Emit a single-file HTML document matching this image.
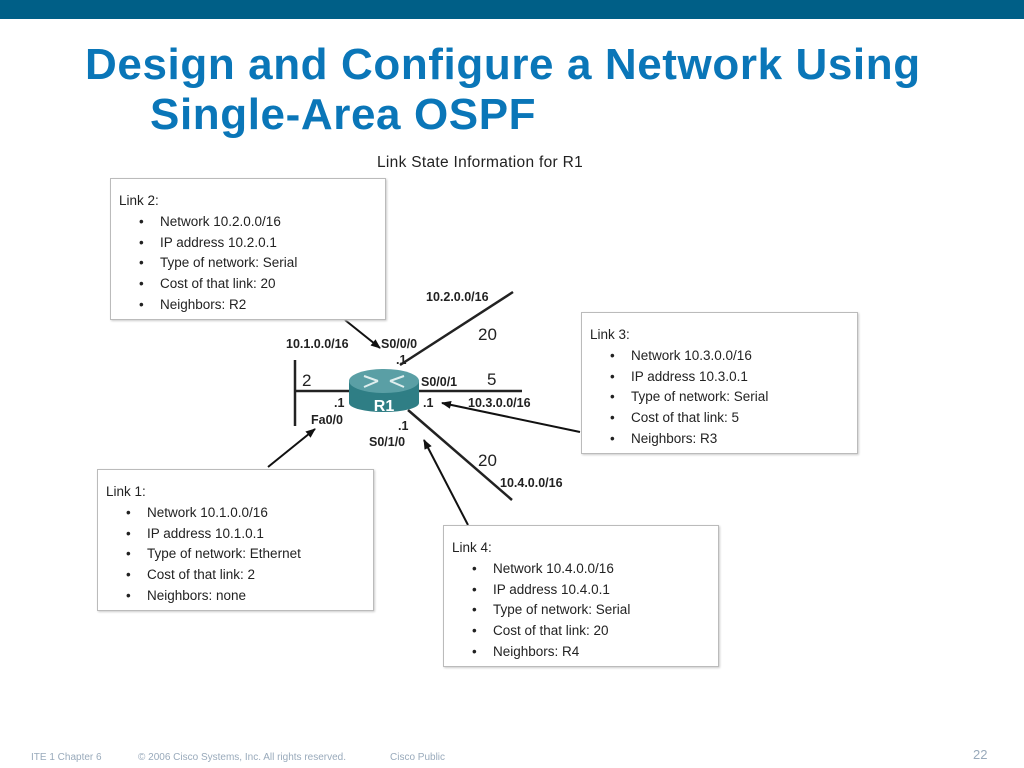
<!DOCTYPE html>
<html><head><style>
body{margin:0;width:1024px;height:768px;background:#fff;position:relative;overflow:hidden;font-family:"Liberation Sans",sans-serif}
.bar{position:absolute;left:0;top:0;width:1024px;height:19px;background:#005f87}
h1{position:absolute;left:85px;top:40px;margin:0;font-size:44px;line-height:50px;color:#0a76b8;font-weight:bold;letter-spacing:0.6px}
.box{position:absolute;border:1px solid #bbb;box-shadow:1px 1px 2px #ccc;background:#fff;font-size:13.5px;color:#222}
.box .t{position:absolute;left:8px;top:14px}
.box ul{position:absolute;left:28px;top:33px;margin:0;padding:0;list-style:none}
.box li{line-height:20.7px}
.box li:before{content:"•";display:inline-block;width:21px}
.ft{position:absolute;top:752px;font-size:10px;color:#9ab}
</style></head><body>
<div class="bar"></div>
<h1>Design and Configure a Network Using<br><span style="margin-left:65px">Single-Area OSPF</span></h1>
<div style="position:absolute;left:377px;top:154px;font-size:15.5px;color:#222;letter-spacing:0.3px">Link State Information for R1</div>
<svg width="1024" height="768" style="position:absolute;left:0;top:0">
<defs><marker id="a" markerWidth="10" markerHeight="8" refX="9" refY="4" orient="auto" markerUnits="userSpaceOnUse"><path d="M0,0L10,4L0,8z" fill="#111"/></marker></defs>
<g stroke="#222" stroke-width="2.5" fill="none">
<line x1="295" y1="360" x2="295" y2="426"/>
<line x1="295" y1="391" x2="355" y2="391"/>
<line x1="400" y1="365" x2="513" y2="292"/>
<line x1="410" y1="391" x2="522" y2="391"/>
<line x1="408" y1="410" x2="512" y2="500"/>
</g>
<g stroke="#111" stroke-width="2" marker-end="url(#a)">
<line x1="345" y1="320" x2="380" y2="348"/>
<line x1="268" y1="467" x2="315" y2="429"/>
<line x1="580" y1="432" x2="442" y2="403"/>
<line x1="468" y1="525" x2="424" y2="440"/>
</g>
<rect x="349" y="381" width="70" height="22" fill="#2f7e85"/>
<ellipse cx="384" cy="403" rx="35" ry="9" fill="#2f7e85"/>
<ellipse cx="384" cy="381" rx="35" ry="12" fill="#5a9fa5"/>
<g stroke="#dfeeee" stroke-width="2"><line x1="364" y1="376" x2="378" y2="381"/><line x1="364" y1="387" x2="378" y2="381"/><line x1="404" y1="376" x2="390" y2="381"/><line x1="404" y1="387" x2="390" y2="381"/></g>
<text x="384" y="411" fill="#fff" font-size="16" font-weight="bold" text-anchor="middle" font-family="Liberation Sans">R1</text>
<g font-family="Liberation Sans" font-size="12.5" font-weight="bold" fill="#222">
<text x="426" y="301">10.2.0.0/16</text>
<text x="286" y="348">10.1.0.0/16</text>
<text x="381" y="348">S0/0/0</text>
<text x="396" y="364">.1</text>
<text x="421" y="386">S0/0/1</text>
<text x="423" y="407">.1</text>
<text x="468" y="407">10.3.0.0/16</text>
<text x="334" y="407">.1</text>
<text x="311" y="424">Fa0/0</text>
<text x="398" y="430">.1</text>
<text x="369" y="446">S0/1/0</text>
<text x="500" y="487">10.4.0.0/16</text>
</g>
<g font-family="Liberation Sans" font-size="17" fill="#222">
<text x="478" y="340">20</text><text x="302" y="386">2</text><text x="487" y="385">5</text><text x="478" y="466">20</text>
</g>
</svg>
<div class="box" style="left:110px;top:178px;width:274px;height:140px"><div class="t">Link 2:</div><ul><li>Network 10.2.0.0/16</li><li>IP address 10.2.0.1</li><li>Type of network: Serial</li><li>Cost of that link: 20</li><li>Neighbors: R2</li></ul></div>
<div class="box" style="left:581px;top:312px;width:275px;height:140px"><div class="t">Link 3:</div><ul><li>Network 10.3.0.0/16</li><li>IP address 10.3.0.1</li><li>Type of network: Serial</li><li>Cost of that link: 5</li><li>Neighbors: R3</li></ul></div>
<div class="box" style="left:97px;top:469px;width:275px;height:140px"><div class="t">Link 1:</div><ul><li>Network 10.1.0.0/16</li><li>IP address 10.1.0.1</li><li>Type of network: Ethernet</li><li>Cost of that link: 2</li><li>Neighbors: none</li></ul></div>
<div class="box" style="left:443px;top:525px;width:274px;height:140px"><div class="t">Link 4:</div><ul><li>Network 10.4.0.0/16</li><li>IP address 10.4.0.1</li><li>Type of network: Serial</li><li>Cost of that link: 20</li><li>Neighbors: R4</li></ul></div>
<div class="ft" style="left:31px">ITE 1 Chapter 6</div>
<div class="ft" style="left:138px">© 2006 Cisco Systems, Inc. All rights reserved.</div>
<div class="ft" style="left:390px">Cisco Public</div>
<div class="ft" style="left:973px;top:747px;font-size:13px">22</div>
</body></html>
